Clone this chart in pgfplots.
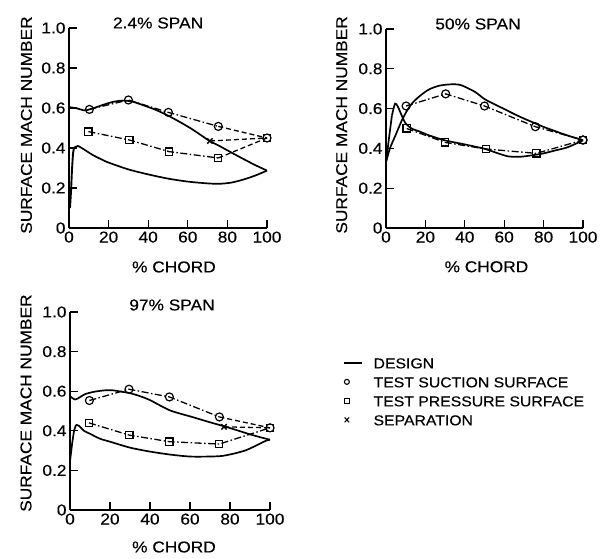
\documentclass[border=0pt]{standalone}
\usepackage{fontspec}
\setmainfont[FakeStretch=1.1, FakeBold=0.3]{Liberation Sans}
\usepackage{pgfplots}
\pgfplotsset{compat=1.18}
\pgfplotsset{
  panel/.style={
    scale only axis,
    xmin=0, xmax=100, ymin=0, ymax=1,
    axis x line*=bottom, axis y line*=left,
    axis line style={line width=1.5pt, -},
    tick align=inside, major tick length=8bp,
    tick style={line width=1.1pt, black},
    xtick={0,20,40,60,80,100}, xticklabels={0,20,40,60,80,100},
    ytick={0,0.2,0.4,0.6,0.8,1}, yticklabels={0,0.2,0.4,0.6,0.8,1.0},
    /pgf/number format/assume math mode=true,
    font=\fontsize{15.8}{18}\selectfont,
    clip=false,
    xlabel={\% CHORD}, ylabel={SURFACE MACH NUMBER},
  },
  design/.style={black, line width=1.7pt, smooth, tension=0.45, no markers, forget plot},
  test/.style={black, line width=1.3pt, dash pattern=on 7bp off 2.5bp on 1.5bp off 2.5bp,
    mark size=4bp, mark options={solid, fill=white, line width=1.2pt}, forget plot},
  trail/.style={black, line width=1.3pt, dash pattern=on 5bp off 3bp, no markers, forget plot},
  endmark/.style={only marks, mark size=4bp, mark options={fill=white, line width=1.2pt}, forget plot},
}
\begin{document}
\begin{tikzpicture}
\useasboundingbox (0,0) rectangle (602bp,559bp);

% ---------------- 2.4% SPAN ----------------
\begin{axis}[panel, at={(69bp,331bp)}, anchor=south west, width=198bp, height=200bp,
  title={2.4\% SPAN}, title style={at={(axis description cs:0.45,0.995)}, anchor=center},
  xlabel style={at={(axis description cs:0.53,-0.195)}, anchor=center},
  ylabel style={at={(axis description cs:-0.215,0.515)}, anchor=center}]
\addplot[design] coordinates {(0,0.605)(4,0.598)(8,0.588)(12,0.598)(17,0.615)(22,0.63)(27,0.637)(32,0.632)(38,0.612)(44,0.59)(50,0.562)(56,0.53)(62,0.495)(68,0.455)(71,0.435)(76,0.41)(83,0.372)(90,0.335)(95,0.31)(100,0.287)};
\addplot[black, line width=1.9pt, forget plot] coordinates {(0.5,0.10)(1,0.18)(1.5,0.29)(2,0.37)(2.5,0.40)};
\addplot[design] coordinates {(2.5,0.40)(4.5,0.41)(8,0.39)(12,0.365)(16,0.345)(20,0.327)(30,0.293)(40,0.268)(50,0.247)(60,0.232)(70,0.223)(76,0.221)(82,0.227)(88,0.242)(94,0.262)(100,0.287)};
\addplot[trail] coordinates {(75.4,0.508)(100,0.45)};
\addplot[trail] coordinates {(75.4,0.35)(100,0.45)};
\addplot[trail] coordinates {(71.2,0.435)(100,0.45)};
\addplot[test, mark=o] coordinates {(10.3,0.593)(30,0.64)(50.2,0.578)(75.4,0.508)};
\addplot[test, mark=square, mark size=3.6bp] coordinates {(9.8,0.482)(30.5,0.44)(50.5,0.382)(75.4,0.35)};
\addplot[endmark, mark=square, mark size=3.6bp] coordinates {(100,0.45)};
\addplot[endmark, mark=o] coordinates {(100,0.45)};
\addplot[only marks, mark=x, mark size=3.8bp, mark options={line width=1.4pt}, forget plot] coordinates {(71.2,0.435)};
\end{axis}

% ---------------- 50% SPAN ----------------
\begin{axis}[panel, at={(386bp,331bp)}, anchor=south west, width=197bp, height=199bp,
  title={50\% SPAN}, title style={at={(axis description cs:0.467,0.995)}, anchor=center},
  xlabel style={at={(axis description cs:0.51,-0.195)}, anchor=center},
  ylabel style={at={(axis description cs:-0.225,0.518)}, anchor=center}]
\addplot[design] coordinates {(0,0.33)(2,0.40)(5,0.47)(8,0.54)(11,0.595)(14,0.635)(18,0.67)(22,0.697)(27,0.715)(33,0.722)(38,0.718)(45,0.685)(50,0.648)(55,0.622)(60,0.598)(65,0.573)(70,0.55)(75,0.529)(80,0.508)(85,0.49)(90,0.472)(95,0.456)(100,0.442)};
\addplot[black, line width=1.7pt, forget plot] coordinates {(0,0.33)(1.5,0.45)(3,0.565)};
\addplot[design] coordinates {(3,0.565)(4.6,0.625)(6,0.61)(8,0.565)(10,0.525)(13,0.5)(17,0.485)(22,0.465)(30,0.44)(40,0.42)(50,0.398)(56,0.378)(62,0.36)(68,0.358)(74,0.365)(80,0.375)(86,0.39)(92,0.405)(100,0.44)};
\addplot[test, mark=o] coordinates {(10.2,0.613)(30.3,0.674)(50,0.613)(75.8,0.509)(100,0.442)};
\addplot[test, mark=square, mark size=3.6bp] coordinates {(10.5,0.50)(30,0.43)(50.7,0.397)(76.3,0.375)(100,0.442)};
\addplot[endmark, mark=o] coordinates {(100,0.442)};
\end{axis}

% ---------------- 97% SPAN ----------------
\begin{axis}[panel, at={(70bp,49bp)}, anchor=south west, width=200bp, height=198bp,
  title={97\% SPAN}, title style={at={(axis description cs:0.51,1.005)}, anchor=center},
  xlabel style={at={(axis description cs:0.52,-0.187)}, anchor=center},
  ylabel style={at={(axis description cs:-0.22,0.54)}, anchor=center},
  legend style={at={(axis description cs:1.365,0.772)}, anchor=north west, draw=none, fill=none,
    inner sep=0pt, row sep=8bp, column sep=11bp, font=\fontsize{14.4}{17}\selectfont,
    nodes={inner sep=0pt, text height=11bp, text depth=0bp}},
  legend cell align=left]
\addplot[design] coordinates {(0,0.575)(2.5,0.558)(5,0.57)(7.5,0.585)(12,0.597)(17,0.604)(21,0.605)(26,0.597)(30,0.59)(35,0.575)(40,0.555)(45,0.528)(50,0.503)(55,0.487)(60,0.473)(65,0.458)(70,0.443)(78,0.42)(85,0.398)(90,0.382)(95,0.368)(100,0.355)};
\addplot[black, line width=1.7pt, forget plot] coordinates {(0,0.245)(1,0.33)(2,0.40)(3,0.43)};
\addplot[design] coordinates {(3,0.43)(4.5,0.425)(7,0.40)(10,0.385)(15,0.36)(20,0.345)(30,0.315)(40,0.295)(50,0.28)(60,0.27)(70,0.27)(76,0.273)(82,0.285)(88,0.302)(94,0.33)(98,0.35)(100,0.355)};
\addplot[trail] coordinates {(74.7,0.47)(100,0.415)};
\addplot[trail] coordinates {(77,0.42)(100,0.415)};
\addplot[test, mark=o] coordinates {(9.7,0.553)(29.5,0.61)(49.7,0.571)(74.7,0.47)};
\addplot[test, mark=square, mark size=3.6bp] coordinates {(9.5,0.44)(29.7,0.378)(49.7,0.345)(74.6,0.333)(100,0.415)};
\addplot[endmark, mark=o] coordinates {(100,0.415)};
\addplot[only marks, mark=x, mark size=3.8bp, mark options={line width=1.4pt}, forget plot] coordinates {(77,0.42)};
% legend
\addlegendimage{legend image code/.code={\draw[line width=1.4pt] (0bp,0bp) -- (18bp,0bp);}}
\addlegendentry{DESIGN}
\addlegendimage{legend image code/.code={\draw[line width=1.1pt] (3bp,0bp) circle (2.5bp);}}
\addlegendentry{TEST SUCTION SURFACE}
\addlegendimage{legend image code/.code={\draw[line width=1.1pt] (0.6bp,-2.4bp) rectangle (5.4bp,2.4bp);}}
\addlegendentry{TEST PRESSURE SURFACE}
\addlegendimage{legend image code/.code={\draw[line width=1.1pt] (0.8bp,-2.4bp) -- (5.2bp,2.4bp) (0.8bp,2.4bp) -- (5.2bp,-2.4bp);}}
\addlegendentry{SEPARATION}
\end{axis}
\end{tikzpicture}
\end{document}
